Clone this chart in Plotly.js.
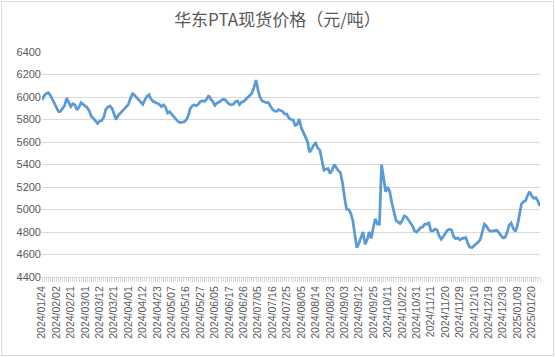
<!DOCTYPE html>
<html>
<head>
<meta charset="utf-8">
<script src="https://cdn.plot.ly/plotly-3.0.1.min.js"></script>
<style>
html,body{margin:0;padding:0;background:#fff;}
#wrap{position:relative;width:555px;height:357px;}
#chart{width:555px;height:357px;}
#frame{position:absolute;left:1px;top:1px;width:551px;height:353px;border:1px solid #d9d9d9;pointer-events:none;}
</style>
</head>
<body>
<div id="wrap"><div id="chart"></div><div id="frame"></div></div>
<script>
const chartTitle = "华东PTA现货价格（元/吨）";

// tick labels shown every 7 trading days
const tickLabels = [
"2024/01/24","2024/02/02","2024/02/21","2024/03/01","2024/03/12","2024/03/21",
"2024/04/01","2024/04/12","2024/04/23","2024/05/07","2024/05/16","2024/05/27",
"2024/06/05","2024/06/17","2024/06/26","2024/07/05","2024/07/16","2024/07/25",
"2024/08/05","2024/08/14","2024/08/23","2024/09/03","2024/09/12","2024/09/25",
"2024/10/11","2024/10/22","2024/10/31","2024/11/11","2024/11/20","2024/11/29",
"2024/12/10","2024/12/19","2024/12/30","2025/01/09","2025/01/20"
];
const labelStep = 7;

// daily spot prices (yuan/ton)
const prices = [
5973,6010,6030,6038,6018,5980,5940,5895,5870,5872,
5900,5925,5990,5950,5915,5940,5930,5884,5910,5950,
5932,5915,5905,5875,5825,5811,5790,5766,5785,5790,
5820,5890,5910,5920,5900,5840,5800,5835,5855,5875,
5890,5910,5935,5988,6030,6015,5995,5975,5950,5935,
5975,6005,6020,5980,5962,5952,5945,5935,5914,5930,
5912,5858,5868,5845,5830,5808,5784,5772,5773,5778,
5795,5830,5895,5922,5930,5922,5937,5960,5967,5960,
5980,6015,5980,5960,5925,5945,5955,5965,5980,5975,
5955,5935,5932,5935,5958,5965,5932,5955,
5960,5978,5995,6012,6033,6085,6150,6060,5995,5965,
5955,5950,5950,5920,5890,5875,5872,5888,5875,5870,
5848,5848,5812,5800,5796,5748,5755,5805,5725,5685,
5630,5605,5510,5535,5573,5590,5545,5530,5440,5350,
5358,5365,5320,5350,5400,5370,5345,5330,5240,5110,
5002,5000,4970,4905,4790,4660,4700,4758,4800,4690,
4730,4800,4744,4840,4918,4870,4870,5400,5290,5158,
5200,5158,5060,4990,4905,4890,4875,4900,4942,4935,
4910,4880,4855,4810,4800,4818,4840,4845,4871,4871,
4880,4810,4810,4826,4818,4765,4735,4760,4787,
4815,4825,4818,4760,4740,4747,4730,4741,4746,4750,
4695,4665,4662,4677,4692,4710,4735,4810,4870,4852,
4820,4806,4808,4812,4815,4795,4775,4748,4752,4795,
4860,4880,4830,4805,4855,4960,5050,5070,5078,5125,
5158,5120,5100,5105,5075,5030
];

const yTicks = [4400,4600,4800,5000,5200,5400,5600,5800,6000,6200,6400];

const xIdx = prices.map((_, i) => i);
const tickVals = tickLabels.map((_, k) => k * labelStep);

const trace = {
  x: xIdx,
  y: prices,
  type: "scatter",
  mode: "lines",
  line: {color: "#5B9BD5", width: 2.75},
  hoverinfo: "skip"
};

const layout = {
  width: 555,
  height: 357,
  margin: {l: 42, r: 15, t: 52, b: 80},
  paper_bgcolor: "#ffffff",
  plot_bgcolor: "#ffffff",
  showlegend: false,
  title: {
    text: chartTitle,
    font: {family: "Noto Sans CJK SC, sans-serif", size: 17, color: "#595959"},
    x: 0.5, xanchor: "center", y: 0.945, yanchor: "middle"
  },
  xaxis: {
    range: [0, prices.length - 1],
    tickmode: "array",
    tickvals: tickVals,
    ticktext: tickLabels,
    tickangle: -90,
    tickfont: {family: "Liberation Sans, Arial, sans-serif", size: 10.5, color: "#595959"},
    showgrid: false,
    zeroline: false,
    showline: true,
    linecolor: "#d9d9d9",
    linewidth: 1,
    ticks: "outside",
    ticklen: 4,
    tickcolor: "#d9d9d9",
    minor: {dtick: 1, tick0: 0, ticks: "outside", ticklen: 4, tickcolor: "#d9d9d9", showgrid: false},
    fixedrange: true
  },
  yaxis: {
    range: [4400, 6400],
    tickmode: "array",
    tickvals: yTicks,
    ticktext: yTicks.map(String),
    tickfont: {family: "Liberation Sans, Arial, sans-serif", size: 11, color: "#595959"},
    showgrid: true,
    gridcolor: "#d9d9d9",
    gridwidth: 1,
    zeroline: false,
    showline: false,
    ticks: "",
    fixedrange: true
  }
};

Plotly.newPlot("chart", [trace], layout, {staticPlot: true, displayModeBar: false});
</script>
</body>
</html>
